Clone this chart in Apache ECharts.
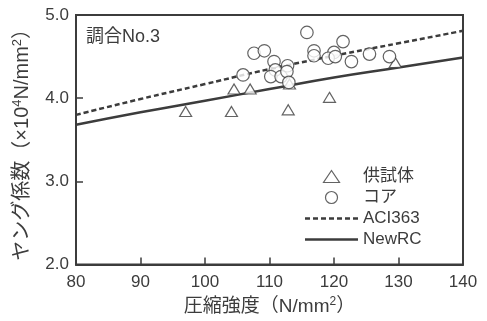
<!DOCTYPE html>
<html>
<head>
<meta charset="utf-8">
<script src="https://cdn.jsdelivr.net/npm/echarts@6/dist/echarts.min.js"></script>
<style>html,body{margin:0;padding:0;background:#fff;}#c{width:487px;height:321px;}</style>
</head>
<body>
<div id="c"></div>
<script>
// Data
const specimenPoints = [
  [97.0, 3.84], [104.1, 3.84], [112.9, 3.86], [119.3, 4.01],
  [104.5, 4.11], [107.0, 4.11], [113.1, 4.17], [129.5, 4.43]
];
const corePoints = [
  [115.8, 4.79], [107.6, 4.54], [109.2, 4.57], [105.9, 4.28], [110.7, 4.44],
  [110.9, 4.34], [110.2, 4.26], [111.8, 4.26], [112.8, 4.39], [112.7, 4.32],
  [113.0, 4.19], [116.9, 4.57], [116.9, 4.51], [121.4, 4.68], [120.0, 4.55],
  [119.1, 4.48], [120.2, 4.50], [122.7, 4.44], [125.5, 4.53], [128.6, 4.50]
];
const lineX = [80, 90, 100, 110, 120, 130, 140];
const aci363Y = [3.80, 3.99, 4.17, 4.35, 4.51, 4.66, 4.81];
const newRCY = [3.68, 3.83, 3.97, 4.11, 4.25, 4.37, 4.49];
const seriesNames = ['供試体', 'コア', 'ACI363', 'NewRC'];
const mixLabel = '調合No.3';
const xTitle = '{a|圧縮強度（N/mm}{s|2}{a|）}';
const yTitle = '{a|ヤング係数（×10}{s|4}{a|N/mm}{s|2}{a|）}';

const INK = '#3c3c3c';
const FONT = "'Liberation Sans', 'Noto Sans CJK JP', sans-serif";
const xRich = {
  a: {fontFamily: FONT, fontSize: 19, color: INK, lineHeight: 22},
  s: {fontFamily: FONT, fontSize: 12, color: INK, lineHeight: 22, verticalAlign: 'top'}
};
const yRich = {
  a: {fontFamily: FONT, fontSize: 20, color: INK, lineHeight: 23},
  s: {fontFamily: FONT, fontSize: 13, color: INK, lineHeight: 23, verticalAlign: 'top'}
};

// legend icons (shapes only)
const dashIcon = 'path://M0,0h5v2.5h-5zM8,0h5v2.5h-5zM16,0h5v2.5h-5zM24,0h5v2.5h-5zM32,0h5v2.5h-5zM40,0h5v2.5h-5zM48,0h5v2.5h-5z';
const solidIcon = 'path://M0,0h53v2.5h-53z';
const triIcon = 'path://M6,0L12,9L0,9Z';

const chart = echarts.init(document.getElementById('c'), null, {renderer: 'canvas'});
chart.setOption({
  backgroundColor: '#ffffff',
  animation: false,
  textStyle: {fontFamily: FONT, color: INK},
  title: {
    text: mixLabel, left: 86, top: 28, padding: 0,
    textStyle: {fontFamily: FONT, fontSize: 18, fontWeight: 'normal', color: INK}
  },
  grid: {left: 76, right: 24, top: 15, bottom: 52, show: true, borderColor: INK, borderWidth: 2, backgroundColor: 'transparent'},
  legend: {
    orient: 'vertical', left: 305, top: 168, padding: 0,
    itemWidth: 53, itemHeight: 12, itemGap: 4,
    textStyle: {fontFamily: FONT, fontSize: 17, color: INK},
    data: [
      {name: seriesNames[0], icon: triIcon, itemStyle: {color: '#ffffff', borderColor: INK, borderWidth: 1.2}},
      {name: seriesNames[1], icon: 'circle', itemStyle: {color: '#ffffff', borderColor: INK, borderWidth: 1.2}},
      {name: seriesNames[2], icon: dashIcon, itemStyle: {color: INK, borderWidth: 0}},
      {name: seriesNames[3], icon: solidIcon, itemStyle: {color: INK, borderWidth: 0}}
    ]
  },
  xAxis: {
    type: 'value', min: 80, max: 140, interval: 10,
    name: xTitle, nameLocation: 'middle', nameGap: 29,
    nameTextStyle: {rich: xRich},
    axisLine: {show: true, lineStyle: {color: INK, width: 2}},
    axisTick: {show: true, inside: true, length: 7, lineStyle: {color: INK, width: 1.5}},
    axisLabel: {fontFamily: FONT, fontSize: 17, color: INK, margin: 9},
    splitLine: {show: false}
  },
  yAxis: {
    type: 'value', min: 2, max: 5, interval: 1,
    name: yTitle, nameLocation: 'middle', nameGap: 42,
    nameTextStyle: {rich: yRich},
    axisLine: {show: true, lineStyle: {color: INK, width: 2}},
    axisTick: {show: true, inside: true, length: 7, lineStyle: {color: INK, width: 1.5}},
    axisLabel: {fontFamily: FONT, fontSize: 17, color: INK, margin: 7, formatter: v => v.toFixed(1)},
    splitLine: {show: false}
  },
  series: [
    {
      name: seriesNames[2], type: 'line', data: lineX.map((x, i) => [x, aci363Y[i]]),
      symbol: 'none', smooth: true, z: 2,
      lineStyle: {color: INK, width: 2.5, type: [5, 3]}, itemStyle: {color: INK}
    },
    {
      name: seriesNames[3], type: 'line', data: lineX.map((x, i) => [x, newRCY[i]]),
      symbol: 'none', smooth: true, z: 2,
      lineStyle: {color: INK, width: 2.5, type: 'solid'}, itemStyle: {color: INK}
    },
    {
      name: seriesNames[0], type: 'scatter', data: specimenPoints,
      symbol: 'triangle', symbolSize: [12, 10], z: 3,
      itemStyle: {color: '#ffffff', borderColor: INK, borderWidth: 1.2}
    },
    {
      name: seriesNames[1], type: 'scatter', data: corePoints,
      symbol: 'circle', symbolSize: 12.5, z: 4,
      itemStyle: {color: '#ffffff', borderColor: INK, borderWidth: 1.2}
    }
  ]
});
</script>
</body>
</html>
